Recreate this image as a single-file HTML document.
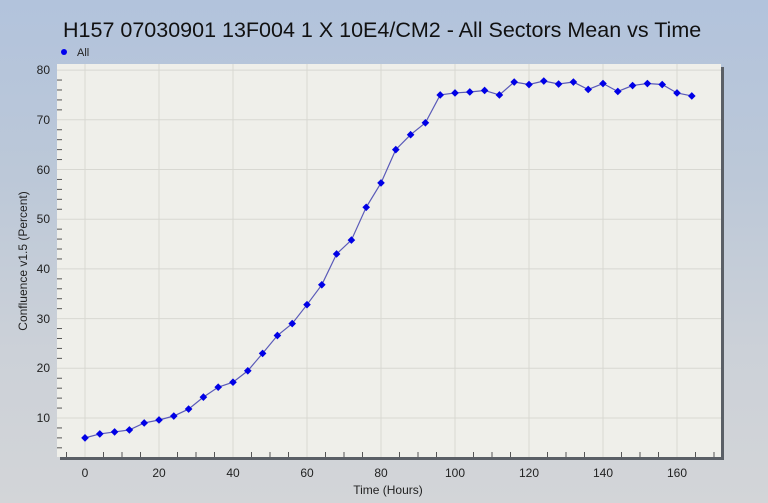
<!DOCTYPE html>
<html><head><meta charset="utf-8"><style>
html,body{margin:0;padding:0;}
body{width:768px;height:503px;overflow:hidden;background:linear-gradient(#b2c3dc 0%,#bcc8d8 35%,#ccd1d8 70%,#d3d5d8 100%);font-family:"Liberation Sans",sans-serif;}
svg{display:block;}
</style></head><body>
<svg id="s" width="768" height="503" xmlns="http://www.w3.org/2000/svg" font-family="Liberation Sans, sans-serif">
<text x="63" y="37" font-size="21.5" fill="#111">H157 07030901 13F004 1 X 10E4/CM2 - All Sectors Mean vs Time</text>
<circle cx="64" cy="52" r="3" fill="#0000ee"/>
<text x="77" y="56" font-size="11" fill="#222">All</text>
<rect x="57" y="64" width="664" height="393" fill="#efefea"/>
<rect x="721" y="67" width="3" height="393" fill="#5a5f66"/>
<rect x="60" y="457" width="664" height="3" fill="#5a5f66"/>
<g id="grid" stroke="#d8d8d2" stroke-width="1"></g>
<g id="ticks" stroke="#555" stroke-width="1"></g>
<g font-size="12" fill="#222" text-anchor="end">
<text x="50" y="74">80</text><text x="50" y="124">70</text><text x="50" y="174">60</text><text x="50" y="223">50</text><text x="50" y="273">40</text><text x="50" y="323">30</text><text x="50" y="372">20</text><text x="50" y="422">10</text>
</g>
<g font-size="12" fill="#222" text-anchor="middle">
<text x="85" y="477">0</text><text x="159" y="477">20</text><text x="233" y="477">40</text><text x="307" y="477">60</text><text x="381" y="477">80</text><text x="455" y="477">100</text><text x="529" y="477">120</text><text x="603" y="477">140</text><text x="677" y="477">160</text>
</g>
<text x="388" y="494" font-size="12" fill="#222" text-anchor="middle">Time (Hours)</text>
<text transform="translate(27,261) rotate(-90)" font-size="12" fill="#222" text-anchor="middle">Confluence v1.5 (Percent)</text>
<polyline id="ln" fill="none" stroke="#5a5ab8" stroke-width="1.2"/>
<g id="pts" fill="#0000e6"></g>
</svg>
<script>
var ns="http://www.w3.org/2000/svg";
function X(h){return 85+h*3.7;}function Y(v){return 418-(v-10)*4.97;}
function el(p,t,a){var e=document.createElementNS(ns,t);for(var k in a)e.setAttribute(k,a[k]);document.getElementById(p).appendChild(e);}
for(var h=0;h<=160;h+=20)el("grid","line",{x1:X(h),x2:X(h),y1:64,y2:457});
for(var v=10;v<=80;v+=10)el("grid","line",{x1:57,x2:721,y1:Y(v),y2:Y(v)});
for(var v=4;v<=80;v+=2)if(v%10)el("ticks","line",{x1:57,x2:62,y1:Y(v),y2:Y(v)});
for(var h=-5;h<=170;h+=5){if(h%20&&X(h)>57&&X(h)<721)el("ticks","line",{x1:X(h),x2:X(h),y1:452,y2:457});}
var d=[6,6.8,7.2,7.6,9,9.6,10.4,11.8,14.2,16.2,17.2,19.5,23,26.6,29,32.8,36.8,43,45.8,52.4,57.3,64,67,69.4,75,75.4,75.6,75.9,75,77.6,77.1,77.8,77.2,77.6,76.1,77.3,75.7,76.9,77.3,77.1,75.4,74.8];
var pts=[];d.forEach(function(v,i){var x=X(i*4),y=Y(v);pts.push(x+","+y);el("pts","rect",{x:x-2.7,y:y-2.7,width:5.4,height:5.4,transform:"rotate(45 "+x+" "+y+")"});});
document.getElementById("ln").setAttribute("points",pts.join(" "));
</script>
</body></html>
